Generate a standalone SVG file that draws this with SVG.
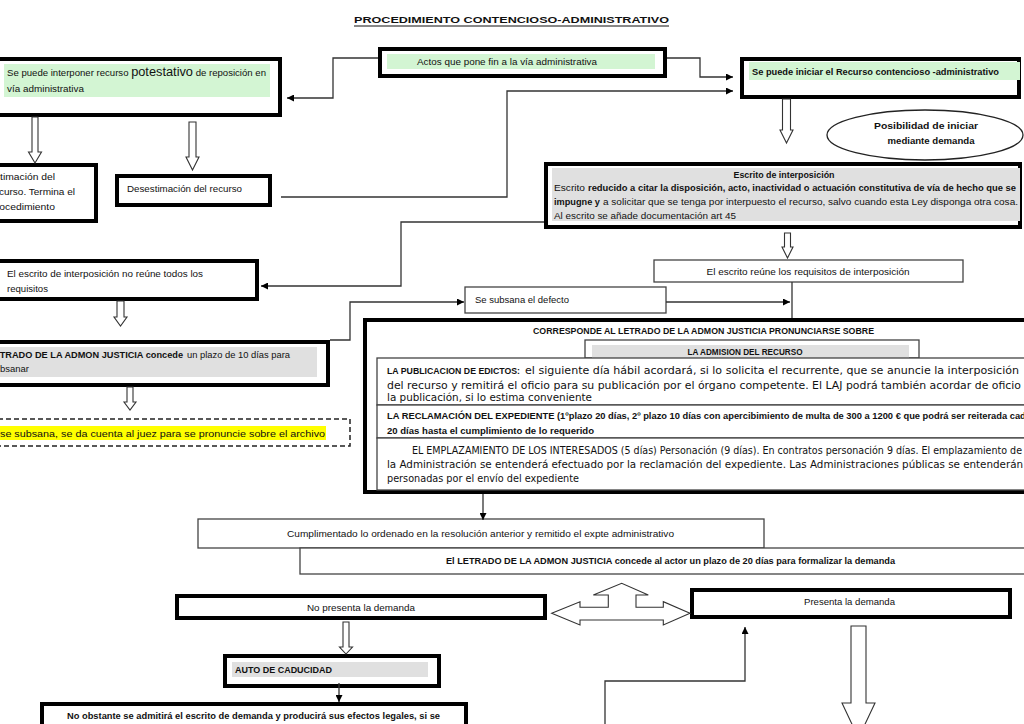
<svg xmlns="http://www.w3.org/2000/svg" width="1024" height="724" viewBox="0 0 1024 724">
<defs>
<marker id="ah" viewBox="0 0 10 10" refX="10" refY="5" markerWidth="8" markerHeight="7" markerUnits="userSpaceOnUse" orient="auto"><path d="M0,0 L10,5 L0,10 z" fill="#000"/></marker>
<style>
.thick{fill:#fff;stroke:#000;stroke-width:4}
.thin{fill:#fff;stroke:#444;stroke-width:1.3}
.dash{fill:#fff;stroke:#222;stroke-width:1.5;stroke-dasharray:5 3}
.t{font-family:"Liberation Sans",Arial,sans-serif;font-size:9px;fill:#111}
.v{font-family:"DejaVu Sans","Liberation Sans",sans-serif;font-size:10.5px;fill:#111}
.b{font-weight:bold}
.green{fill:#d3f5d3}
.gray{fill:#e0e0e0}
.c{stroke:#333;stroke-width:1.3;fill:none}
.blk{fill:#fff;stroke:#333;stroke-width:1.1}
</style>
</defs>
<rect width="1024" height="724" fill="#fff"/>
<g id="title">
<text class="t b" x="511.5" y="23" text-anchor="middle" font-size="12.5" textLength="315" lengthAdjust="spacingAndGlyphs">PROCEDIMIENTO CONTENCIOSO-ADMINISTRATIVO</text>
<line x1="354" y1="26" x2="669" y2="26" stroke="#111" stroke-width="1"/>
</g>
<g id="nodeA">
<rect class="thick" x="-10" y="59" width="290" height="56"/>
<rect class="green" x="4" y="64" width="266" height="33"/>
<text class="t" x="7" y="76" font-size="9.5" textLength="259" lengthAdjust="spacingAndGlyphs">Se puede interponer recurso <tspan font-size="12">potestativo</tspan> de reposición en</text>
<text class="t" x="7" y="92" font-size="9.5" textLength="77" lengthAdjust="spacingAndGlyphs">vía administrativa</text>
</g>
<g id="nodeB">
<rect class="thick" x="380" y="49" width="285" height="27"/>
<rect class="green" x="387" y="54" width="268" height="15"/>
<text class="t" x="417" y="65" textLength="180" lengthAdjust="spacingAndGlyphs">Actos que pone fin a la vía administrativa</text>
</g>
<g id="nodeC">
<rect class="thick" x="742" y="59" width="277" height="38"/>
<rect class="green" x="749" y="62" width="271" height="18"/>
<text class="t b" x="752" y="75" textLength="247" lengthAdjust="spacingAndGlyphs">Se puede iniciar el Recurso contencioso -administrativo</text>
</g>
<g id="nodeEllipse">
<ellipse cx="925" cy="135" rx="98" ry="25" fill="#fff" stroke="#222" stroke-width="1.3"/>
<text class="t b" x="926" y="129" text-anchor="middle" textLength="104" lengthAdjust="spacingAndGlyphs">Posibilidad de iniciar</text>
<text class="t b" x="931" y="144" text-anchor="middle" textLength="87" lengthAdjust="spacingAndGlyphs">mediante demanda</text>
</g>
<g id="nodeD">
<rect class="thick" x="-10" y="165" width="106" height="56"/>
<text class="t" x="-12" y="180" textLength="67" lengthAdjust="spacingAndGlyphs">Estimación del</text>
<text class="t" x="-10" y="195" textLength="85" lengthAdjust="spacingAndGlyphs">recurso. Termina el</text>
<text class="t" x="-10" y="210" textLength="65" lengthAdjust="spacingAndGlyphs">procedimiento</text>
</g>
<g id="nodeE">
<rect class="thick" x="117" y="176" width="153" height="29"/>
<text class="t" x="127" y="192" textLength="115" lengthAdjust="spacingAndGlyphs">Desestimación del recurso</text>
</g>
<g id="nodeF">
<rect class="thick" x="546" y="164" width="474" height="63"/>
<rect class="gray" x="552" y="168" width="468" height="53"/>
<text class="t b" x="784" y="178" text-anchor="middle" textLength="101" lengthAdjust="spacingAndGlyphs">Escrito de interposición</text>
<text class="t" x="554" y="191" textLength="31" lengthAdjust="spacingAndGlyphs">Escrito</text>
<text class="t b" x="588" y="191" textLength="428" lengthAdjust="spacingAndGlyphs">reducido a citar la disposición, acto, inactividad o actuación constitutiva de vía de hecho que se</text>
<text class="t b" x="554" y="205" textLength="46" lengthAdjust="spacingAndGlyphs">impugne y</text>
<text class="t" x="603" y="205" textLength="415" lengthAdjust="spacingAndGlyphs">a solicitar que se tenga por interpuesto el recurso, salvo cuando esta Ley disponga otra cosa.</text>
<text class="t" x="554" y="219" textLength="182" lengthAdjust="spacingAndGlyphs">Al escrito se añade documentación art 45</text>
</g>
<g id="nodeG">
<rect class="thick" x="-10" y="261" width="267" height="38"/>
<text class="t" x="7" y="277" textLength="196" lengthAdjust="spacingAndGlyphs">El escrito de interposición no reúne todos los</text>
<text class="t" x="7" y="292" textLength="41" lengthAdjust="spacingAndGlyphs">requisitos</text>
</g>
<g id="nodeH">
<rect class="thick" x="-10" y="342" width="338" height="43"/>
<rect class="gray" x="0" y="347" width="317" height="30"/>
<text class="t b" x="-12" y="358" textLength="195" lengthAdjust="spacingAndGlyphs">LETRADO DE LA ADMON JUSTICIA concede</text>
<text class="t" x="187" y="358" textLength="103" lengthAdjust="spacingAndGlyphs">un plazo de 10 días para</text>
<text class="t" x="-10" y="372" textLength="39" lengthAdjust="spacingAndGlyphs">subsanar</text>
</g>
<g id="nodeI">
<rect class="dash" x="-10" y="419" width="360" height="27"/>
<rect x="0" y="426" width="326" height="14" fill="#ffff00"/>
<text class="t" x="0" y="437" font-size="11.5" textLength="325" lengthAdjust="spacingAndGlyphs">se subsana, se da cuenta al juez para se pronuncie sobre el archivo</text>
</g>
<g id="nodeJ">
<rect class="thin" x="465" y="287" width="201" height="26"/>
<text class="t" x="475" y="303" textLength="94" lengthAdjust="spacingAndGlyphs">Se subsana el defecto</text>
</g>
<g id="nodeK">
<rect class="thin" x="654" y="260" width="309" height="22"/>
<text class="t" x="808" y="275" text-anchor="middle" textLength="203" lengthAdjust="spacingAndGlyphs">El escrito reúne los requisitos de interposición</text>
</g>
<g id="nodeL">
<rect class="thick" x="365" y="320" width="700" height="172"/>
<text class="t b" x="703.5" y="334" text-anchor="middle" textLength="341" lengthAdjust="spacingAndGlyphs">CORRESPONDE AL LETRADO DE LA ADMON JUSTICIA PRONUNCIARSE SOBRE</text>
<rect class="thin" x="585" y="340" width="334" height="18"/>
<rect class="gray" x="592" y="345" width="317" height="13"/>
<text class="t b" x="745" y="355" text-anchor="middle" textLength="115" lengthAdjust="spacingAndGlyphs">LA ADMISION DEL RECURSO</text>
<rect class="thin" x="377" y="358" width="660" height="47"/>
<text class="t b" x="387" y="374" textLength="133" lengthAdjust="spacingAndGlyphs">LA PUBLICACION DE EDICTOS:</text>
<text class="v" x="525" y="374" textLength="494" lengthAdjust="spacingAndGlyphs">el siguiente día hábil acordará, si lo solicita el recurrente, que se anuncie la interposición</text>
<text class="v" x="387" y="389" textLength="634" lengthAdjust="spacingAndGlyphs">del recurso y remitirá el oficio para su publicación por el órgano competente. El LAJ podrá también acordar de oficio</text>
<text class="v" x="387" y="401" textLength="205" lengthAdjust="spacingAndGlyphs">la publicación, si lo estima conveniente</text>
<rect class="thin" x="377" y="405" width="660" height="33"/>
<text class="t b" x="387" y="419" font-size="8.5" textLength="644" lengthAdjust="spacingAndGlyphs">LA RECLAMACIÓN DEL EXPEDIENTE (1ºplazo 20 días, 2º plazo 10 días con apercibimiento de multa de 300 a 1200 € que podrá ser reiterada cada</text>
<text class="t b" x="387" y="434" font-size="8.5" textLength="207" lengthAdjust="spacingAndGlyphs">20 días hasta el cumplimiento de lo requerido</text>
<rect class="thin" x="377" y="438" width="660" height="52"/>
<text class="v" x="412" y="454" font-size="9.5" textLength="610" lengthAdjust="spacingAndGlyphs">EL EMPLAZAMIENTO DE LOS INTERESADOS (5 días) Personación (9 días). En contratos personación 9 días. El emplazamiento de</text>
<text class="v" x="387" y="468" font-size="9.5" textLength="636" lengthAdjust="spacingAndGlyphs">la Administración se entenderá efectuado por la reclamación del expediente. Las Administraciones públicas se entenderán</text>
<text class="v" x="387" y="482" font-size="9.5" textLength="192" lengthAdjust="spacingAndGlyphs">personadas por el envío del expediente</text>
</g>
<g id="nodeM">
<rect class="thin" x="198" y="519" width="566" height="29"/>
<text class="t" x="480.5" y="537" text-anchor="middle" textLength="387" lengthAdjust="spacingAndGlyphs">Cumplimentado lo ordenado en la resolución anterior y remitido el expte administrativo</text>
</g>
<g id="nodeN">
<rect class="thin" x="300" y="548" width="740" height="26"/>
<text class="t b" x="670.5" y="564" text-anchor="middle" textLength="449" lengthAdjust="spacingAndGlyphs">El LETRADO DE LA ADMON JUSTICIA concede al actor un plazo de 20 días para formalizar la demanda</text>
</g>
<g id="nodeO">
<rect class="thick" x="177" y="596" width="368" height="22"/>
<text class="t" x="361" y="611" text-anchor="middle" textLength="108" lengthAdjust="spacingAndGlyphs">No presenta la demanda</text>
</g>
<g id="nodeP">
<rect class="thick" x="692" y="590" width="318" height="27"/>
<text class="t" x="849.5" y="605" text-anchor="middle" textLength="91" lengthAdjust="spacingAndGlyphs">Presenta la demanda</text>
</g>
<g id="nodeQ">
<rect class="thick" x="225" y="656" width="214" height="30"/>
<rect class="gray" x="232" y="662" width="196" height="15"/>
<text class="t b" x="235" y="673" textLength="97" lengthAdjust="spacingAndGlyphs">AUTO DE CADUCIDAD</text>
</g>
<g id="nodeR">
<rect class="thick" x="42" y="704" width="424" height="40"/>
<text class="t b" x="253.5" y="719" text-anchor="middle" textLength="373" lengthAdjust="spacingAndGlyphs">No obstante se admitirá el escrito de demanda y producirá sus efectos legales, si se</text>
</g>
<g id="connectors">
<path class="c" d="M378,58 H333 V98 H287" marker-end="url(#ah)"/>
<path class="c" d="M667,58 H700 V77 H733" marker-end="url(#ah)"/>
<path class="c" d="M281,197 H507 V91 H733" marker-end="url(#ah)"/>
<path class="c" d="M544,222 H401 V286 H261" marker-end="url(#ah)"/>
<path class="c" d="M330,340 H350 V302 H464" marker-end="url(#ah)"/>
<path class="c" d="M666,302 H790" marker-end="url(#ah)"/>
<path class="c" d="M792,282 V318"/>
<path class="c" d="M483,494 V520" marker-end="url(#ah)"/>
<path class="c" d="M339,683 V702" marker-end="url(#ah)"/>
<path class="c" d="M605,730 V681 H745 V627" marker-end="url(#ah)"/>
<polygon class="blk" points="32,117 38,117 38,152 41.5,152 35,163 28.5,152 32,152"/>
<polygon class="blk" points="189,122 196,122 196,157 199,157 192.5,170 186,157 189,157"/>
<polygon class="blk" points="782.5,99 790.5,99 790.5,130 793,130 786.5,143 780,130 782.5,130"/>
<polygon class="blk" points="784.5,233 790.5,233 790.5,247 793,247 787.5,258 782,247 784.5,247"/>
<polygon class="blk" points="117,301 124,301 124,317 127,317 120.5,326 114,317 117,317"/>
<polygon class="blk" points="127,387 133,387 133,402 136,402 130,410 124,402 127,402"/>
<polygon class="blk" points="343,622 349,622 349,647 352.5,647 346,654 339.5,647 343,647"/>
<polygon class="blk" points="851,626 866,626 866,703 875,703 858.5,738 842,703 851,703"/>
<polygon class="blk" points="551.7,613.3 580,601.7 580,607.3 608.3,607.3 608.3,595 593.3,595 621.7,583.3 648.3,595 636,595 636,607.3 663.3,607.3 663.3,601.7 690,613.3 663.3,625 663.3,620 580,620 580,625"/>
</g>
</svg>
